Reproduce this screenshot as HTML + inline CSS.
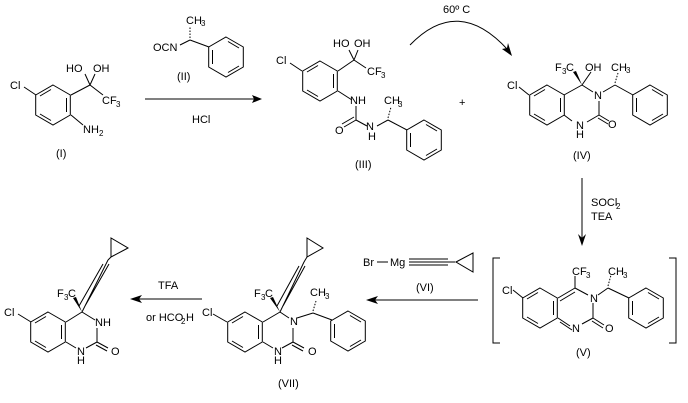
<!DOCTYPE html>
<html><head><meta charset="utf-8"><style>
html,body{margin:0;padding:0;background:#fff;}
svg{display:block;}
text{font-family:"Liberation Sans",sans-serif;font-size:11px;fill:#000;}
.s{font-size:8px;}
</style></head><body>
<svg width="688" height="403" viewBox="0 0 688 403" xmlns="http://www.w3.org/2000/svg">
<defs>
<g id="hx" fill="none" stroke="#000" stroke-width="1">
<path d="M0,-20 L17.3,-10 L17.3,10 L0,20 L-17.3,10 L-17.3,-10 Z"/>
<path d="M2,-15.5 L13,-9 M13,9 L2,15.5 M-13.5,-7 L-13.5,7"/>
</g>
<g id="hr" fill="none" stroke="#000" stroke-width="1">
<path d="M0,-20 L17.3,-10 L17.3,10 L0,20 L-17.3,10 L-17.3,-10 Z"/>
<path d="M-2,-15.5 L-13,-9 M13.5,-7 L13.5,7 M-13,9 L-2,15.5"/>
</g>
</defs>
<g stroke="#000" stroke-width="1" fill="none">
<use href="#hr" x="53" y="105"/>
<path d="M24,87 L36,95 M71,95 L90,85 M90,85 L85,74 M90,85 L95,74 M90,85 L103,95 M71,115 L83,125"/>
<use href="#hx" x="226" y="57"/>
<path d="M209,47 L190,40 M190,40 L180,45"/>
<path d="M190,38 L190,26" stroke-dasharray="1.5,1.5"/>
<path d="M145,99 L256,99"/>
<use href="#hr" x="320" y="81"/>
<path d="M290,63 L302,71 M338,71 L354,60 M354,60 L349,50 M354,60 L358,50 M354,60 L366,68 M338,91 L352,100 M356,106 L356,120 M356,120 L367,126 M356,120 L344,127 M354,117 L342,124 M377,126 L388,120 M388,120 L407,130"/>
<path d="M388,118 L391,107" stroke-dasharray="1.5,1.5"/>
<use href="#hx" x="424" y="140"/>
<path d="M410,45 Q458,-5 508,50"/>
<use href="#hr" x="547" y="105"/>
<path d="M519,87 L529,95 M564,95 L582,85 M582,85 L593,92 M599,101 L599,115 M599,115 L609,121 M598,118 L608,124 M599,115 L587,122 M572,121 L564,115 M582,85 L591,72 M603,92 L615,85 M615,85 L633,95"/>
<path d="M615,83 L618,73" stroke-dasharray="1.5,1.5"/>
<use href="#hx" x="650" y="105"/>
<path d="M582,178 L582,238"/>
<path d="M500,258 L493,258 L493,343 L500,343 M669,258 L676,258 L676,343 L669,343"/>
<use href="#hr" x="540" y="308"/>
<path d="M513,290 L523,298 M558,298 L575,288 M560,301 L575,292 M575,288 L588,295 M593,303 L593,318 M593,318 L604,325 M592,321 L603,328 M593,318 L582,324 M570,326 L558,318 M572,330 L560,322 M575,288 L575,276 M598,295 L608,288 M608,288 L629,298"/>
<path d="M608,286 L611,275" stroke-dasharray="1.5,1.5"/>
<use href="#hx" x="646" y="308"/>
<path d="M377,262 L388,262 M409,259 L448,259 M409,262 L455,262 M409,265 L448,265 M456,262 L473,253 L473,272 Z"/>
<path d="M478,300 L372,300"/>
<use href="#hr" x="245" y="332"/>
<path d="M213,314 L227,322 M263,322 L280,312 M280,312 L289,318 M293,328 L293,342 M293,342 L304,348 M292,345 L303,351 M293,342 L282,348 M273,348 L263,342 M297,318 L313,313 M313,313 L332,320"/>
<path d="M280,312 L304,262 M283,306 L305,266 M277,306 L299,266 M304,262 L307,257 M307,257 L307,238 L323,248 Z"/>
<path d="M313,311 L316,301" stroke-dasharray="1.5,1.5"/>
<use href="#hx" x="348" y="331"/>
<path d="M202,299 L137,299"/>
<use href="#hr" x="48" y="332"/>
<path d="M18,314 L31,322 M66,322 L82,312 M82,312 L95,320 M97,328 L97,342 M97,342 L108,348 M96,345 L107,351 M97,342 L86,348 M76,348 L66,342"/>
<path d="M82,312 L108,260 M85,306 L109,264 M79,306 L103,264 M108,260 L111,257 M111,257 L111,238 L128,248 Z"/>
</g>
<g fill="#000" stroke="none">
<path d="M262,99 L252,95 L254,99 L252,103 Z"/>
<path d="M512,56 L502,49 L507,48 L508,43 Z"/>
<path d="M582,246 L578,234 L582,238 L586,234 Z"/>
<path d="M366,300 L378,296 L375,300 L378,304 Z"/>
<path d="M130,299 L142,295 L139,299 L142,303 Z"/>
<path d="M582,85 L573,72 L576,71 Z"/>
<path d="M280,312 L270,298 L273,297 Z"/>
<path d="M82,312 L73,298 L76,297 Z"/>
</g>
<text x="10" y="89">Cl</text>
<text x="66" y="72">HO</text>
<text x="93" y="72">OH</text>
<text x="102" y="104">CF</text><text class="s" x="116" y="107">3</text>
<text x="83" y="133">NH</text><text class="s" x="99" y="136">2</text>
<text x="56" y="157">(I)</text>
<text x="186" y="24">CH</text><text class="s" x="201" y="26">3</text>
<text x="153" y="51">OCN</text>
<text x="177" y="80">(II)</text>
<text x="192" y="123">HCl</text>
<text x="276" y="64">Cl</text>
<text x="333" y="47">HO</text>
<text x="354" y="47">OH</text>
<text x="367" y="75">CF</text><text class="s" x="381" y="78">3</text>
<text x="350" y="104">NH</text>
<text x="335" y="134">O</text>
<text x="366" y="130">N</text>
<text x="368" y="140">H</text>
<text x="384" y="104">CH</text><text class="s" x="398" y="107">3</text>
<text x="355" y="168">(III)</text>
<text x="459" y="106">+</text>
<text x="443" y="13">60º C</text>
<text x="507" y="89">Cl</text>
<text x="555" y="71">F</text><text class="s" x="562" y="74">3</text><text x="566" y="71">C</text>
<text x="585" y="71">OH</text>
<text x="611" y="71">CH</text><text class="s" x="626" y="73">3</text>
<text x="594" y="99">N</text>
<text x="608" y="128">O</text>
<text x="576" y="129">N</text>
<text x="576" y="138">H</text>
<text x="573" y="159">(IV)</text>
<text x="591" y="206">SOCl</text><text class="s" x="616" y="209">2</text>
<text x="591" y="220">TEA</text>
<text x="502" y="294">Cl</text>
<text x="572" y="275">CF</text><text class="s" x="586" y="278">3</text>
<text x="608" y="275">CH</text><text class="s" x="623" y="278">3</text>
<text x="590" y="302">N</text>
<text x="605" y="332">O</text>
<text x="572" y="332">N</text>
<text x="576" y="356">(V)</text>
<text x="363" y="266">Br</text>
<text x="390" y="266">Mg</text>
<text x="416" y="291">(VI)</text>
<text x="202" y="316">Cl</text>
<text x="254" y="297">F</text><text class="s" x="261" y="300">3</text><text x="265" y="297">C</text>
<text x="310" y="296">CH</text><text class="s" x="325" y="299">3</text>
<text x="290" y="325">N</text>
<text x="308" y="355">O</text>
<text x="274" y="355">N</text>
<text x="274" y="364">H</text>
<text x="278" y="387">(VII)</text>
<text x="158" y="289">TFA</text>
<text x="146" y="321">or HCO</text><text class="s" x="181" y="324">2</text><text x="186" y="321">H</text>
<text x="4" y="316">Cl</text>
<text x="57" y="297">F</text><text class="s" x="64" y="300">3</text><text x="68" y="297">C</text>
<text x="95" y="326">NH</text>
<text x="111" y="355">O</text>
<text x="77" y="355">N</text>
<text x="77" y="364">H</text>
</svg>
</body></html>
